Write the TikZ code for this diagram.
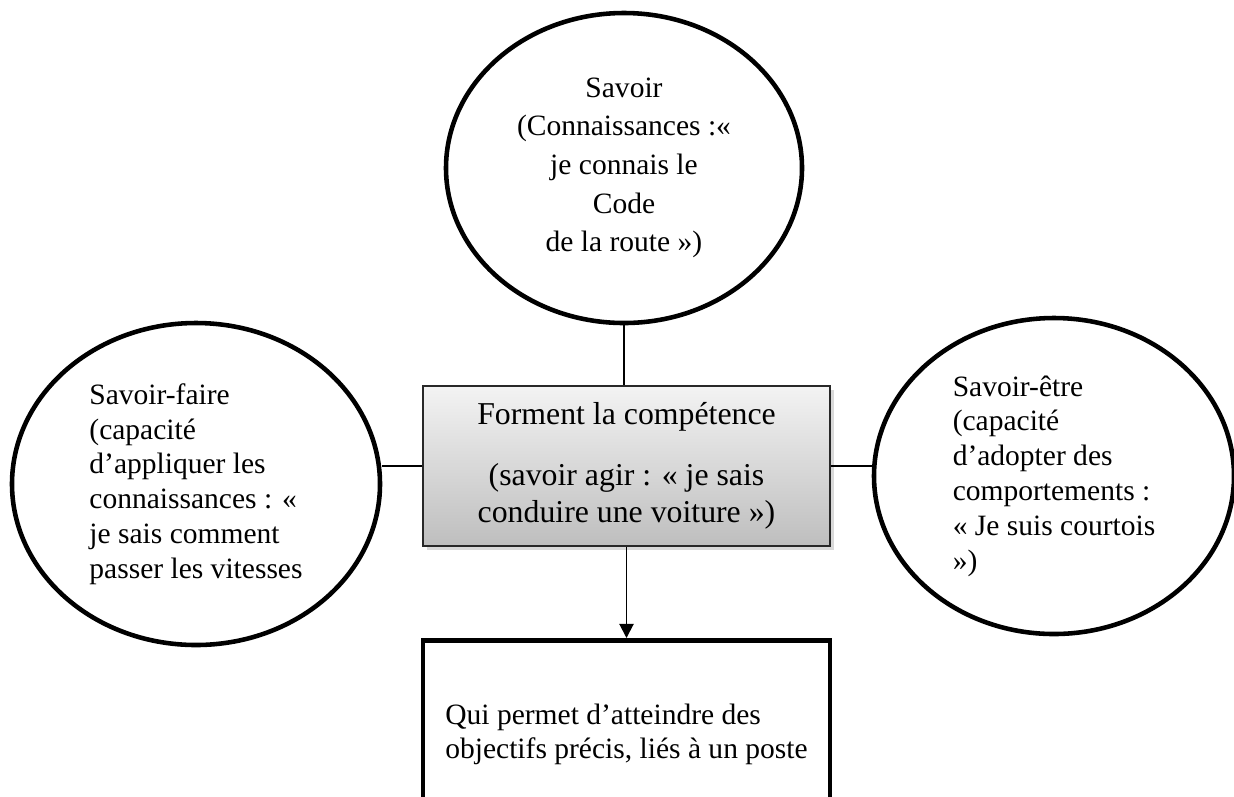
\documentclass[tikz,border=0pt]{standalone}
\usepackage{fontspec}
\setmainfont{Liberation Serif}
\usepackage{tikz}
\usetikzlibrary{shapes.geometric,shadows,arrows.meta}
\usepackage{color}
\definecolor{cptop}{RGB}{243,243,243}
\definecolor{cpbot}{RGB}{190,190,190}
\definecolor{cpline}{RGB}{40,40,40}

\begin{document}
\begin{tikzpicture}[x=0.02cm, y=-0.02cm,
  bulle/.style={ellipse, draw, line width=2.6pt, inner sep=0pt, font=\fontsize{16.8}{19.8}\selectfont},
  lien/.style={line width=1.1pt}]
  \path[use as bounding box, clip] (0,0) rectangle (1234,796);
  \node[bulle, align=center, minimum width=356*0.02cm, minimum height=310*0.02cm,
    font=\fontsize{16.8}{22}\selectfont] (savoir) at (624,168)
    {Savoir\\(Connaissances :«\\je connais le\\Code\\de la route »)};
  \node[bulle, align=left, minimum width=368*0.02cm, minimum height=322*0.02cm] (faire) at (196,484)
    {Savoir-faire\\(capacité\\d’appliquer les\\connaissances : «\\je sais comment\\passer les vitesses};
  \node[bulle, align=left, minimum width=360*0.02cm, minimum height=316*0.02cm] (etre) at (1054,476)
    {Savoir-être\\(capacité\\d’adopter des\\comportements :\\« Je suis courtois\\»)};
  \node[draw=cpline, line width=0.9pt, top color=cptop, bottom color=cpbot, align=center,
    minimum width=407*0.02cm, minimum height=160*0.02cm, font=\fontsize{18.1}{21}\selectfont,
    drop shadow={shadow xshift=2pt, shadow yshift=-2pt, opacity=0.3}] (comp) at (626.5,466)
    {Forment la compétence\\[14pt](savoir agir : « je sais\\conduire une voiture »)};
  \node[draw, line width=2.6pt, align=left, minimum width=407*0.02cm, minimum height=188*0.02cm,
    font=\fontsize{16.8}{19.8}\selectfont, anchor=north] (objectif) at (626.5,638)
    {Qui permet d’atteindre des\\objectifs précis, liés à un poste};
  \draw[lien] (savoir.south) -- (savoir.south |- comp.north);
  \draw[lien] (comp.west) -- (comp.west -| faire.east);
  \draw[lien] (comp.east) -- (comp.east -| etre.west);
  \draw[lien, -{Triangle[width=8pt, length=8pt]}] (comp.south) -- (objectif.north);
\end{tikzpicture}
\end{document}
